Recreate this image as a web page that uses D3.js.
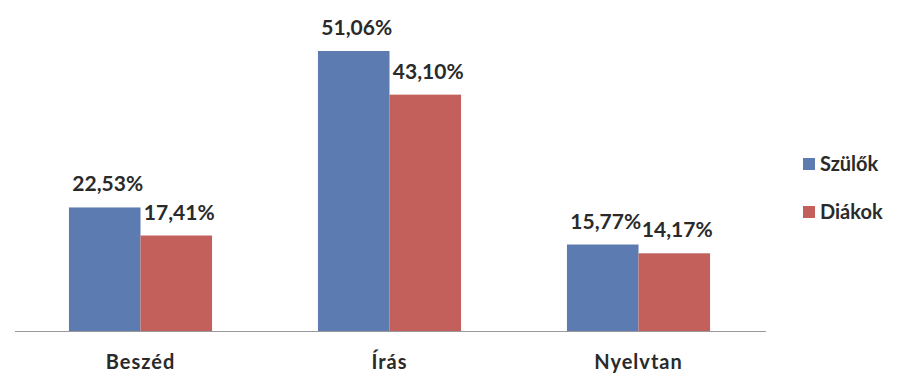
<!DOCTYPE html>
<html>
<head>
<meta charset="utf-8">
<script src="https://cdn.jsdelivr.net/npm/d3@7"></script>
<style>
  body { margin: 0; background: #fff; }
  text { font-family: Lato, 'Open Sans', sans-serif; }
</style>
</head>
<body>
<script>
// chart data
var categories = ['Beszéd', 'Írás', 'Nyelvtan']
var seriesNames = ['Szülők', 'Diákok']
var szulok = [22.53, 51.06, 15.77]
var diakok = [17.41, 43.10, 14.17]
var colors = ['#5b7bb1', '#c3605b']

var W = 897, H = 375
var margin = {top: 51, left: 16, right: 134, bottom: 44}
var baseY = H - margin.bottom

var svg = d3.select('body').append('svg')
  .attr('width', W)
  .attr('height', H)

var x = d3.scaleBand()
  .domain(categories)
  .range([margin.left, W - margin.right])
  .paddingInner(0)
  .paddingOuter(0)

var x1 = d3.scaleBand()
  .domain(seriesNames)
  .range([0, x.bandwidth()])
  .paddingOuter(0.74)
  .paddingInner(0)

var y = d3.scaleLinear()
  .domain([0, 51.06])
  .range([baseY, margin.top])

var rows = categories.map(function (c, i) {
  return {cat: c, vals: [szulok[i], diakok[i]]}
})

var groups = svg.selectAll('g.grp')
  .data(rows)
  .enter().append('g')
  .attr('class', 'grp')
  .attr('transform', function (d) { return 'translate(' + x(d.cat) + ',0)' })

groups.selectAll('rect')
  .data(function (d) { return d.vals.map(function (v, j) { return {s: seriesNames[j], v: v, j: j} }) })
  .enter().append('rect')
  .attr('x', function (d) { return x1(d.s) })
  .attr('width', x1.bandwidth())
  .attr('y', function (d) { return y(d.v) })
  .attr('height', function (d) { return baseY - y(d.v) })
  .attr('fill', function (d) { return colors[d.j] })

// value labels
groups.selectAll('text.val')
  .data(function (d) { return d.vals.map(function (v, j) { return {s: seriesNames[j], v: v} }) })
  .enter().append('text')
  .attr('class', 'val')
  .attr('x', function (d) { return x1(d.s) + x1.bandwidth() / 2 + 3 })
  .attr('y', function (d) { return y(d.v) - 16 })
  .attr('text-anchor', 'middle')
  .attr('font-size', 21)
  .attr('font-weight', 'bold')
  .attr('fill', '#2a2a2a')
  .text(function (d) { return d3.format('.2f')(d.v).replace('.', ',') + '%' })

// baseline
svg.append('line')
  .attr('x1', margin.left - 1)
  .attr('x2', W - margin.right + 3)
  .attr('y1', baseY + 0.5)
  .attr('y2', baseY + 0.5)
  .attr('stroke', '#999')
  .attr('stroke-width', 1)

// category axis labels
svg.append('g')
  .attr('transform', 'translate(0,' + baseY + ')')
  .call(d3.axisBottom(x).tickSize(0).tickPadding(24))
  .call(function (g) { g.select('.domain').remove() })
  .selectAll('text')
  .attr('font-size', 20)
  .attr('font-weight', 'bold')
  .attr('letter-spacing', 1)
  .attr('font-family', 'Lato, sans-serif')
  .attr('fill', '#2a2a2a')
  .attr('dy', '0.71em')

// legend
var legend = svg.append('g')
  .attr('transform', 'translate(803,158)')

seriesNames.forEach(function (s, i) {
  var lg = legend.append('g').attr('transform', 'translate(0,' + (i * 48) + ')')
  lg.append('rect')
    .attr('width', 12)
    .attr('height', 12)
    .attr('fill', colors[i])
  lg.append('text')
    .attr('x', 17)
    .attr('y', 13)
    .attr('font-size', 20)
    .attr('font-weight', 'bold')
    .attr('fill', '#2a2a2a')
    .text(s)
})
</script>
</body>
</html>
